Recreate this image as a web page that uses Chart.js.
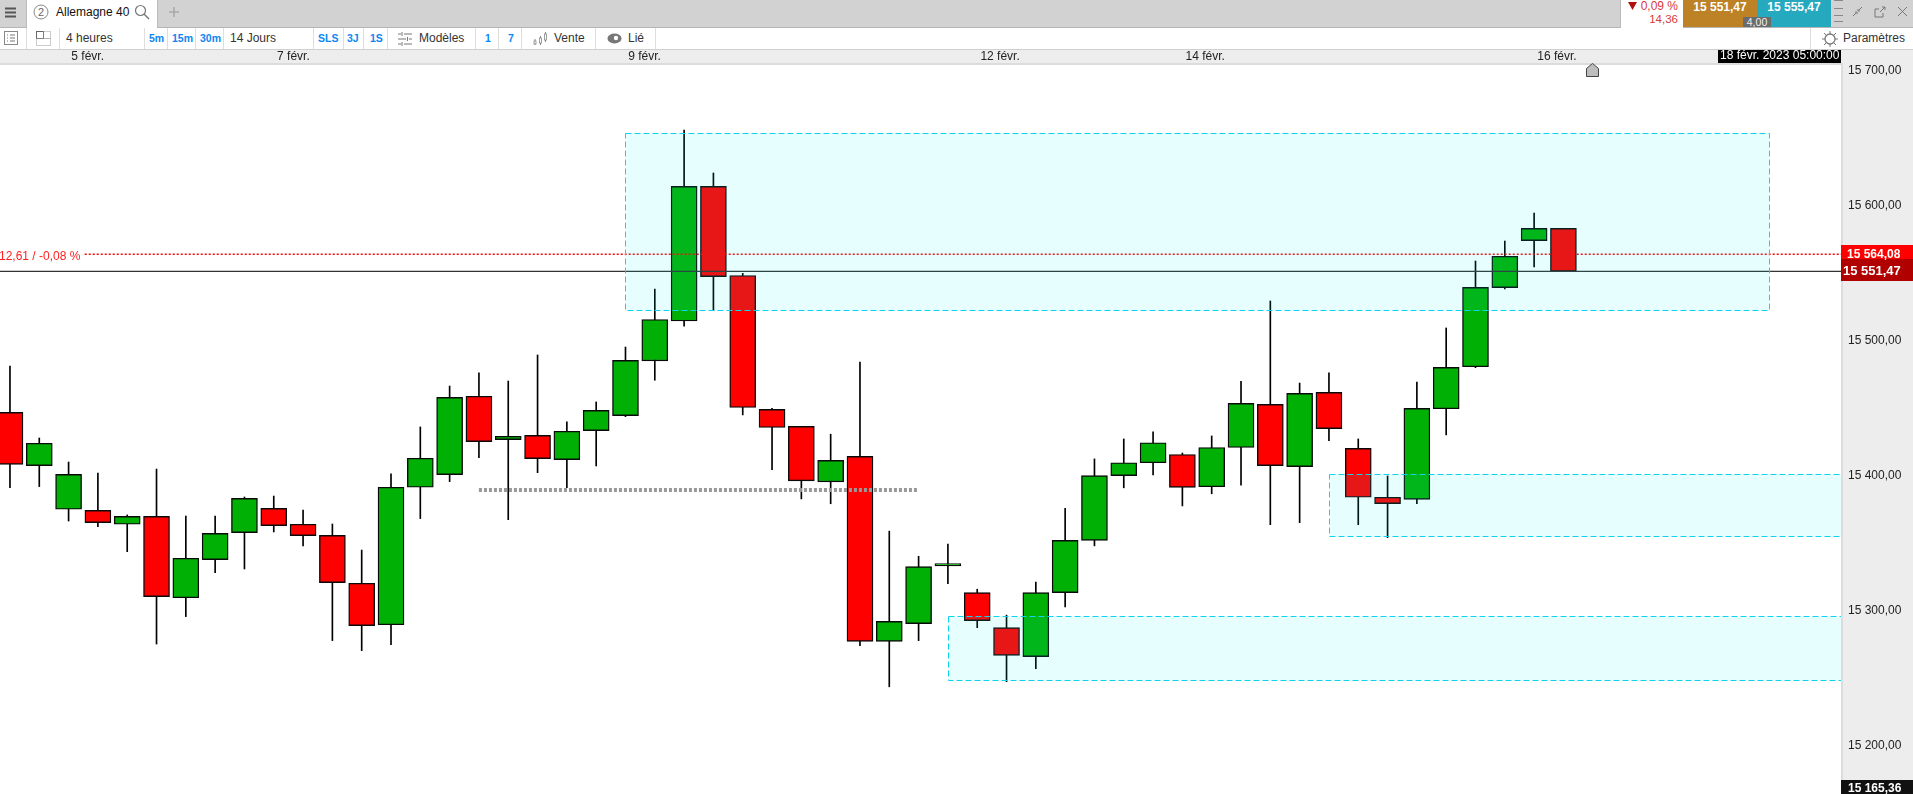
<!DOCTYPE html>
<html lang="fr">
<head>
<meta charset="utf-8">
<title>Allemagne 40</title>
<script src="https://cdn.jsdelivr.net/npm/chart.js@4"></script>
<style>
  html, body { margin: 0; padding: 0; background: #fff; overflow: hidden; }
  body { width: 1913px; height: 794px; position: relative; font: 12px "Liberation Sans", Arial, sans-serif; color: #222; }
  canvas { position: absolute; left: 0; top: 0; }
  .bar, .row, .abs, .sep, svg { position: absolute; }
  .bar { left: 0; top: 0; width: 1913px; height: 27px; background: #d2d2d2; border-bottom: 1px solid #b5b5b5; }
  .row { left: 0; top: 28px; width: 1913px; height: 21px; background: #fff; border-bottom: 1px solid #d0d0d0; }
  .abs { white-space: nowrap; line-height: 14px; }
  .sep { top: 28px; width: 1px; height: 21px; background: #dedede; }
  .blue { color: #0d86f2; font-weight: bold; font-size: 10.5px; top: 31px; }
  .lbl { top: 31px; color: #333; }
</style>
</head>
<body>
<canvas id="graph" width="1913" height="794"></canvas>

<div class="bar"></div>
<div class="row"></div>

<svg style="left:5px;top:7px" width="11" height="11"><path d="M0 1.5h11M0 5.5h11M0 9.5h11" stroke="#555" stroke-width="2"/></svg>
<div class="abs" style="left:26px;top:0;width:132px;height:28px;background:#fff;border-left:1px solid #bbb;border-right:1px solid #bbb;box-sizing:border-box"></div>
<svg style="left:33px;top:4px" width="16" height="16"><circle cx="8" cy="8" r="7" fill="none" stroke="#888"/><text x="8" y="12" font-size="11" text-anchor="middle" fill="#666" font-family="Liberation Sans">2</text></svg>
<div class="abs" style="left:56px;top:5px;color:#111">Allemagne 40</div>
<svg style="left:134px;top:4px" width="16" height="16"><circle cx="6.5" cy="6.5" r="5" fill="none" stroke="#777" stroke-width="1.2"/><path d="M10 10l5 5" stroke="#777" stroke-width="1.4"/></svg>
<svg style="left:168px;top:6px" width="12" height="12"><path d="M6 1v10M1 6h10" stroke="#aaa" stroke-width="1.6"/></svg>

<svg style="left:4px;top:31px" width="14" height="14"><rect x=".5" y=".5" width="13" height="13" fill="none" stroke="#888"/><path d="M3 4h1M6 4h5M3 7h1M6 7h5M3 10h1M6 10h5" stroke="#777"/></svg>
<svg style="left:36px;top:31px" width="15" height="15"><rect x=".5" y=".5" width="7" height="7" fill="none" stroke="#666"/><rect x="7.5" y=".5" width="7" height="7" fill="none" stroke="#999" stroke-dasharray="1 1"/><rect x=".5" y="7.5" width="14" height="7" fill="none" stroke="#999" stroke-dasharray="1 1"/></svg>
<div class="abs lbl" style="left:66px">4 heures</div>
<div class="abs blue" style="left:149px">5m</div>
<div class="abs blue" style="left:172px">15m</div>
<div class="abs blue" style="left:200px">30m</div>
<div class="abs lbl" style="left:230px">14 Jours</div>
<div class="abs blue" style="left:318px">SLS</div>
<div class="abs blue" style="left:347px">3J</div>
<div class="abs blue" style="left:370px">1S</div>
<svg style="left:398px;top:32px" width="14" height="14"><path d="M0 2h3M6 2h8M0 7h8M11 7h3M0 12h3M6 12h8M4 0v4M9.500 5v4M4 10v4" stroke="#777"/></svg>
<div class="abs lbl" style="left:419px">Modèles</div>
<div class="abs blue" style="left:485px">1</div>
<div class="abs blue" style="left:508px">7</div>
<svg style="left:533px;top:31px" width="15" height="15"><path d="M2 8v6M7.500 5v9M12.500 1v10" stroke="#888"/><rect x="1" y="10" width="2" height="3" fill="#fff" stroke="#888" stroke-width=".8"/><rect x="6.500" y="7" width="2" height="5" fill="#fff" stroke="#888" stroke-width=".8"/><rect x="11.500" y="3" width="2" height="6" fill="#fff" stroke="#888" stroke-width=".8"/></svg>
<div class="abs lbl" style="left:554px">Vente</div>
<svg style="left:607px;top:33px" width="15" height="11"><ellipse cx="7.500" cy="5.500" rx="7" ry="5" fill="#777"/><circle cx="9" cy="5" r="2.200" fill="#fff"/></svg>
<div class="abs lbl" style="left:628px">Lié</div>
<div class="sep" style="left:26px"></div><div class="sep" style="left:59px"></div><div class="sep" style="left:144px"></div>
<div class="sep" style="left:167px"></div><div class="sep" style="left:195px"></div><div class="sep" style="left:223px"></div>
<div class="sep" style="left:313px"></div><div class="sep" style="left:343px"></div><div class="sep" style="left:363px"></div>
<div class="sep" style="left:387px"></div><div class="sep" style="left:475px"></div><div class="sep" style="left:498px"></div>
<div class="sep" style="left:521px"></div><div class="sep" style="left:595px"></div><div class="sep" style="left:655px"></div>
<div class="sep" style="left:1810px"></div>
<svg style="left:1822px;top:31px" width="16" height="16"><circle cx="8" cy="8" r="5" fill="none" stroke="#777" stroke-width="1.3"/><path d="M8 0v3M8 13v3M0 8h3M13 8h3M2 2l2 2M12 12l2 2M14 2l-2 2M2 14l2-2" stroke="#777"/></svg>
<div class="abs lbl" style="left:1843px">Paramètres</div>

<div class="abs" style="left:1620px;top:0;width:63px;height:28px;background:#fff;border-left:1px solid #bbb;box-sizing:border-box"></div>
<svg style="left:1628px;top:2px" width="10" height="9"><path d="M0 0h9L4.500 8z" fill="#b01010"/></svg>
<div class="abs" style="right:235px;top:-1px;color:#d83a3a">0,09 %</div>
<div class="abs" style="right:235px;top:12px;color:#d83a3a;font-size:11.5px">14,36</div>
<div class="abs" style="left:1683px;top:0;width:74px;height:27px;background:#bd8226;color:#fff;font-weight:bold;text-align:center;line-height:15px">15 551,47</div>
<div class="abs" style="left:1757px;top:0;width:74px;height:27px;background:#25a9bf;color:#fff;font-weight:bold;text-align:center;line-height:15px">15 555,47</div>
<div class="abs" style="left:1743px;top:17px;width:28px;height:10px;background:#6b6b6b;color:#eee;font-size:10.5px;text-align:center;line-height:11px;border-radius:1px">4,00</div>
<svg style="left:1834px;top:0" width="9" height="27"><path d="M0 0.500h9M0 8.500h9M0 15.500h9M0 21.500h9" stroke="#888"/></svg>
<svg style="left:1852px;top:6px" width="11" height="11"><path d="M1 10l3-3M10 1L7 4M3 6h2v2M8 5H6V3" stroke="#777" fill="none"/></svg>
<svg style="left:1874px;top:6px" width="12" height="12"><path d="M9 7v4H1V3h4M6 6l5-5M8 1h3v3" stroke="#777" fill="none"/></svg>
<svg style="left:1897px;top:6px" width="11" height="11"><path d="M1 1l9 9M10 1l-9 9" stroke="#777"/></svg>
<svg style="left:1586px;top:63px" width="14" height="14"><path d="M.5 13.500V5.500L6.500 .5l6 5v8z" fill="#bdbdbd" stroke="#444"/></svg>

<script>
// bougies 4 heures
const opens  = [15447.0, 15407.5, 15375.2, 15374.4, 15364.1, 15370.0, 15309.7, 15337.9, 15357.9, 15375.9, 15364.1, 15355.9, 15320.4, 15289.7, 15391.5, 15400.9, 15458.9, 15426.8, 15430.0, 15412.0, 15433.5, 15444.6, 15485.1, 15514.7, 15614.4, 15548.4, 15449.2, 15436.6, 15395.5, 15414.4, 15277.4, 15290.5, 15333.3, 15313.5, 15287.5, 15266.1, 15313.5, 15352.2, 15400.1, 15409.7, 15415.8, 15391.9, 15421.0, 15452.9, 15406.8, 15461.8, 15420.3, 15384.1, 15382.6, 15449.7, 15480.8, 15539.4, 15574.2, 15583.3];
const closes = [15408.5, 15424.1, 15401.1, 15365.3, 15370.0, 15310.5, 15338.9, 15357.4, 15383.3, 15363.1, 15355.7, 15320.9, 15289.0, 15391.5, 15413.0, 15458.1, 15425.3, 15429.3, 15412.7, 15433.0, 15448.5, 15485.5, 15515.8, 15614.4, 15547.6, 15450.6, 15435.8, 15396.3, 15411.4, 15277.4, 15292.2, 15332.7, 15335.0, 15292.7, 15267.0, 15313.5, 15352.2, 15400.1, 15409.7, 15424.5, 15391.4, 15421.0, 15453.6, 15407.5, 15461.1, 15434.9, 15384.1, 15379.4, 15450.0, 15480.3, 15539.6, 15562.6, 15583.3, 15551.47];
const highs  = [15481.3, 15428.0, 15410.2, 15402.1, 15371.0, 15405.0, 15370.2, 15370.2, 15384.3, 15385.0, 15374.7, 15364.3, 15345.0, 15401.4, 15436.2, 15466.5, 15476.2, 15470.2, 15489.5, 15439.9, 15454.7, 15495.4, 15538.3, 15656.1, 15624.3, 15550.0, 15450.0, 15436.6, 15430.8, 15484.3, 15359.0, 15340.4, 15349.4, 15316.0, 15296.8, 15321.2, 15376.0, 15412.5, 15427.3, 15432.5, 15416.9, 15429.5, 15470.0, 15529.5, 15468.7, 15476.2, 15427.3, 15399.9, 15469.5, 15509.5, 15559.1, 15573.9, 15594.7, 15583.3];
const lows   = [15391.2, 15392.0, 15366.5, 15362.3, 15343.8, 15275.4, 15295.7, 15328.2, 15331.0, 15358.4, 15348.0, 15277.9, 15270.5, 15274.9, 15368.3, 15395.7, 15413.5, 15367.5, 15402.3, 15391.2, 15407.3, 15443.8, 15470.8, 15510.9, 15522.4, 15445.1, 15404.5, 15382.9, 15379.3, 15274.1, 15243.7, 15277.9, 15320.1, 15287.5, 15247.5, 15257.1, 15302.9, 15348.1, 15391.1, 15400.7, 15377.7, 15386.7, 15393.0, 15363.8, 15365.3, 15426.0, 15363.8, 15354.2, 15379.4, 15430.3, 15480.1, 15538.4, 15554.7, 15551.47];

// axes
const dateLabels = ['5 févr.', '7 févr.', '9 févr.', '12 févr.', '14 févr.', '16 févr.'];
const dateTicks  = [2.65, 9.67, 21.65, 33.78, 40.78, 52.78];
const priceTicks = [15200, 15300, 15400, 15500, 15600, 15700];

// zones
const zoneStarts  = [21, 45, 32];
const zoneEnds    = [60, 64, 64];
const zoneTops    = [15653.7, 15401.1, 15295.8];
const zoneBottoms = [15523.0, 15355.2, 15249.0];

// niveaux
const currentPrice = 15551.47;
const targetPrice  = 15564.08;
const lowestPrice  = 15165.36;
const dottedLevel  = 15389.5;
const dottedFrom   = 16;
const dottedTo     = 31;

const xMin = -0.34;
const xMax = 62.47;
const yMin = 15164.3;
const yMax = 15704.3;

const green = '#00b004';
const red = '#ff0000';

function formatPrice(v) {
  const s = v.toFixed(2).replace('.', ',');
  return s.slice(0, 2) + ' ' + s.slice(2);
}

const indexes = opens.map((_, i) => i);
const bodies = indexes.map(i => ({ x: i, y: [opens[i], closes[i]] }));
const wicks = indexes.map(i => ({ x: i, y: [lows[i], highs[i]] }));
const bodyColors = indexes.map(i => closes[i] >= opens[i] ? green : red);

const panels = {
  id: 'panels',
  beforeDraw(chart) {
    const c = chart.ctx;
    const a = chart.chartArea;
    c.save();
    c.fillStyle = '#fff';
    c.fillRect(0, 0, chart.width, chart.height);
    c.fillStyle = '#ededed';
    c.fillRect(0, 50, chart.width, a.top - 50);
    c.fillRect(a.right, 50, chart.width - a.right, chart.height - 50);
    c.fillStyle = '#dcdcdc';
    c.fillRect(0, a.top - 2, a.right, 2);
    c.fillRect(a.right, a.top - 2, 2, chart.height - a.top + 2);
    c.restore();
  }
};

const zones = {
  id: 'zones',
  afterDatasetsDraw(chart) {
    const c = chart.ctx;
    const a = chart.chartArea;
    const x = chart.scales.x;
    const y = chart.scales.y;
    c.save();
    c.beginPath();
    c.rect(a.left, a.top, a.width, a.height);
    c.clip();
    zoneStarts.forEach((start, i) => {
      const left = Math.round(x.getPixelForValue(start)) + 0.5;
      const right = Math.round(x.getPixelForValue(zoneEnds[i])) + 0.5;
      const top = Math.round(y.getPixelForValue(zoneTops[i])) + 0.5;
      const bottom = Math.round(y.getPixelForValue(zoneBottoms[i])) + 0.5;
      c.fillStyle = 'rgba(0, 240, 255, 0.095)';
      c.fillRect(left, top, right - left, bottom - top);
      c.strokeStyle = '#0fd4f0';
      c.lineWidth = 1;
      c.setLineDash([6, 3]);
      c.strokeRect(left, top, right - left, bottom - top);
    });
    c.restore();
  }
};

const badges = {
  id: 'badges',
  afterDraw(chart) {
    const c = chart.ctx;
    const a = chart.chartArea;
    const y = chart.scales.y;
    const w = chart.width - a.right;
    c.save();
    c.textBaseline = 'middle';

    c.fillStyle = '#ff2020';
    c.font = '12px "Liberation Sans"';
    c.fillText('12,61 / -0,08 %', -1, y.getPixelForValue(targetPrice) + 2);

    c.fillStyle = red;
    c.fillRect(a.right, 245, w, 14);
    c.fillStyle = '#b00000';
    c.fillRect(a.right, 259, w, 22);
    c.fillStyle = '#111';
    c.fillRect(a.right, 780, w, 14);

    c.fillStyle = '#fff';
    c.font = 'bold 12px "Liberation Sans"';
    c.fillText(formatPrice(targetPrice), 1847, y.getPixelForValue(targetPrice));
    c.fillText(formatPrice(lowestPrice), 1848, 789);
    c.font = 'bold 13px "Liberation Sans"';
    c.fillText(formatPrice(currentPrice), 1843, y.getPixelForValue(currentPrice));

    c.fillStyle = '#000';
    c.fillRect(1718, 50, a.right - 1718, 13);
    c.fillStyle = '#fff';
    c.font = '12px "Liberation Sans"';
    c.fillText('18 févr. 2023 05:00:00', 1720, 56);
    c.restore();
  }
};

new Chart(document.getElementById('graph'), {
  type: 'bar',
  data: {
    datasets: [
      { type: 'line', order: 1, data: [{ x: xMin, y: currentPrice }, { x: xMax, y: currentPrice }], borderColor: '#333', borderWidth: 1.3, pointRadius: 0 },
      { type: 'line', order: 2, data: [{ x: 2.55, y: targetPrice }, { x: xMax, y: targetPrice }], borderColor: '#ff0000', borderWidth: 1.5, borderDash: [2, 2], pointRadius: 0 },
      { type: 'line', order: 3, data: [{ x: dottedFrom, y: dottedLevel }, { x: dottedTo, y: dottedLevel }], borderColor: '#999', borderWidth: 4, borderDash: [3, 2], pointRadius: 0 },
      { order: 4, data: bodies, backgroundColor: bodyColors, borderColor: '#0a0a0a', borderWidth: 1.4, borderSkipped: false, barThickness: 26, grouped: false },
      { order: 5, data: wicks, backgroundColor: '#000', barThickness: 1, grouped: false }
    ]
  },
  options: {
    responsive: false,
    animation: false,
    layout: { padding: { top: 50, left: 0, right: 0, bottom: 0 } },
    plugins: { legend: { display: false }, tooltip: { enabled: false } },
    scales: {
      x: {
        type: 'linear',
        position: 'top',
        offset: false,
        min: xMin,
        max: xMax,
        grid: { display: false, drawTicks: false },
        border: { display: false },
        afterBuildTicks: scale => { scale.ticks = dateTicks.map(value => ({ value })); },
        afterFit: scale => { scale.height = 15; scale.paddingLeft = 0; scale.paddingRight = 0; },
        ticks: {
          autoSkip: false,
          maxRotation: 0,
          padding: 1,
          color: '#222',
          font: { family: '"Liberation Sans"', size: 12 },
          callback: value => dateLabels[dateTicks.indexOf(value)]
        }
      },
      y: {
        position: 'right',
        min: yMin,
        max: yMax,
        grid: { display: false, drawTicks: false },
        border: { display: false },
        afterBuildTicks: scale => { scale.ticks = priceTicks.map(value => ({ value })); },
        afterFit: scale => { scale.width = 72; scale.paddingTop = 0; scale.paddingBottom = 0; },
        ticks: {
          autoSkip: false,
          padding: 7,
          color: '#222',
          font: { family: '"Liberation Sans"', size: 12 },
          callback: value => formatPrice(value)
        }
      }
    }
  },
  plugins: [panels, zones, badges]
});
</script>
</body>
</html>
